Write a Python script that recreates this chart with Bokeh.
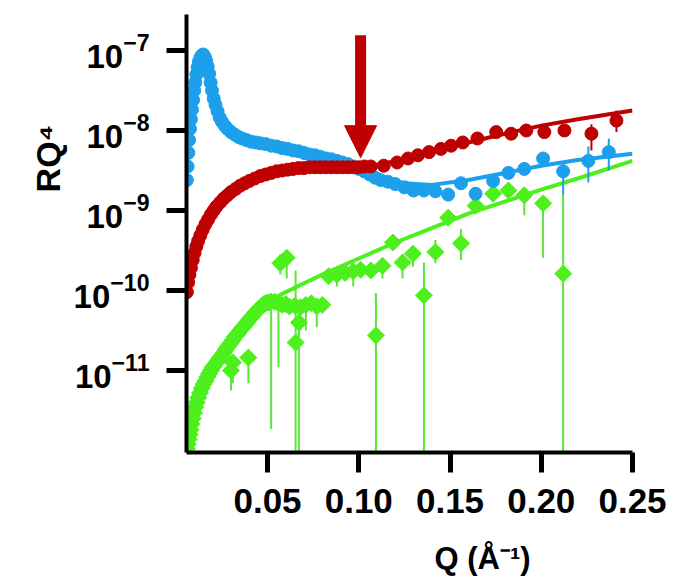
import numpy as np
from bokeh.plotting import figure
from bokeh.models import (Range1d, FixedTicker, PrintfTickFormatter, LogTickFormatter, Label,
                          Arrow, NormalHead, ColumnDataSource)
from bokeh.embed import file_html
from bokeh.resources import INLINE

# ---------------- data ----------------
blue_q = [0.0058, 0.0062, 0.0066, 0.0070, 0.0075, 0.0080, 0.0086, 0.0092, 0.0098, 0.0104,
          0.0110, 0.0117, 0.0124, 0.0132, 0.0140, 0.0148,
          0.0156, 0.0164, 0.0172, 0.0180, 0.0188, 0.0196, 0.0205, 0.0215, 0.0226, 0.0238, 0.0250,
          0.0265, 0.0280, 0.0300, 0.0320, 0.0340, 0.0360, 0.0385, 0.0410, 0.0435, 0.0460, 0.0490,
          0.052, 0.055, 0.058, 0.061, 0.064, 0.067, 0.070, 0.073, 0.076, 0.079,
          0.082, 0.085, 0.088, 0.091, 0.094, 0.097, 0.100, 0.103, 0.106, 0.109, 0.112,
          0.1160, 0.1200, 0.1250, 0.1300, 0.1357, 0.1420, 0.1490,
          0.1560, 0.1640, 0.1736, 0.1820, 0.1907, 0.2010, 0.2120, 0.2258, 0.2370]
blue_r = [2.40e-9, 3.55e-9, 5.25e-9, 7.59e-9, 1.05e-8, 1.38e-8, 1.82e-8, 2.40e-8, 3.16e-8, 3.98e-8,
          5.01e-8, 6.17e-8, 7.24e-8, 8.13e-8, 8.71e-8, 8.91e-8,
          8.32e-8, 7.41e-8, 6.31e-8, 5.13e-8, 3.98e-8, 3.16e-8, 2.51e-8, 2.09e-8, 1.74e-8, 1.45e-8, 1.29e-8,
          1.15e-8, 1.05e-8, 9.55e-9, 8.91e-9, 8.32e-9, 7.94e-9, 7.59e-9, 7.24e-9, 7.08e-9, 6.92e-9, 6.76e-9,
          6.46e-9, 6.31e-9, 6.03e-9, 5.89e-9, 5.62e-9, 5.50e-9, 5.25e-9, 5.01e-9, 4.90e-9, 4.68e-9,
          4.47e-9, 4.37e-9, 4.17e-9, 3.98e-9, 3.80e-9, 3.55e-9, 3.31e-9, 3.09e-9, 2.82e-9, 2.57e-9, 2.40e-9,
          2.29e-9, 2.14e-9, 1.95e-9, 1.78e-9, 1.78e-9, 1.74e-9, 1.58e-9,
          2.19e-9, 1.62e-9, 2.34e-9, 2.95e-9, 3.31e-9, 4.47e-9, 3.09e-9, 4.17e-9, 5.37e-9]
blue_err_q = [0.2120, 0.2258, 0.2370]
blue_err_lo = [1.58e-9, 2.24e-9, 3.16e-9]
blue_err_hi = [3.98e-9, 6.31e-9, 7.94e-9]

red_q = [0.0058, 0.0065, 0.0072, 0.0080, 0.0090, 0.0100, 0.0110, 0.0120, 0.0132, 0.0145,
         0.0160, 0.0175, 0.0190, 0.0205, 0.0220, 0.0240, 0.0260, 0.0280, 0.0300, 0.0325,
         0.0350, 0.0375, 0.0400, 0.0430, 0.0460, 0.0490, 0.0520, 0.0550, 0.0580, 0.0610,
         0.0640, 0.0670, 0.0700, 0.0730, 0.0760, 0.0790, 0.0820, 0.0850, 0.0880, 0.0910,
         0.0940, 0.0970, 0.1000, 0.1030, 0.1066, 0.1137, 0.1210, 0.1270, 0.1324, 0.1385,
         0.1450, 0.1506, 0.1570, 0.1650, 0.1753, 0.1835, 0.1918, 0.2017, 0.2127, 0.2275,
         0.2412]
red_r = [9.55e-11, 1.26e-10, 1.58e-10, 1.91e-10, 2.40e-10, 2.95e-10, 3.55e-10, 4.17e-10, 4.90e-10, 5.75e-10,
         6.76e-10, 7.76e-10, 8.91e-10, 1.00e-9, 1.12e-9, 1.26e-9, 1.41e-9, 1.55e-9, 1.70e-9, 1.86e-9,
         2.04e-9, 2.19e-9, 2.34e-9, 2.51e-9, 2.69e-9, 2.82e-9, 2.95e-9, 3.09e-9, 3.16e-9, 3.24e-9,
         3.31e-9, 3.39e-9, 3.39e-9, 3.47e-9, 3.47e-9, 3.47e-9, 3.47e-9, 3.47e-9, 3.47e-9, 3.47e-9,
         3.47e-9, 3.47e-9, 3.47e-9, 3.55e-9, 3.55e-9, 3.63e-9, 3.98e-9, 4.47e-9, 4.90e-9, 5.37e-9,
         5.89e-9, 6.46e-9, 7.08e-9, 7.94e-9, 9.55e-9, 9.12e-9, 1.00e-8, 9.55e-9, 1.00e-8, 9.12e-9,
         1.33e-8]
red_err_q = [0.2275, 0.2412]
red_err_lo = [5.62e-9, 9.55e-9]
red_err_hi = [1.20e-8, 1.78e-8]

green_q = [0.0058, 0.0063, 0.0068, 0.0073, 0.0078, 0.0084, 0.0090, 0.0097, 0.0104, 0.0112,
           0.0120, 0.0130, 0.0140, 0.0150, 0.0160, 0.0170, 0.0180, 0.0190, 0.0200, 0.0210,
           0.0220, 0.0230, 0.0240, 0.0250, 0.0260, 0.0270, 0.0280, 0.0290, 0.0300, 0.0310,
           0.0320, 0.0330, 0.0340, 0.0350, 0.0360, 0.0370, 0.0380, 0.0390, 0.0400, 0.0410,
           0.0420, 0.0430, 0.0440, 0.0450, 0.0460, 0.0470, 0.0480, 0.0490, 0.0500, 0.0510,
           0.0520, 0.0540, 0.0560, 0.0580, 0.0600, 0.0620, 0.0650, 0.0680, 0.0710, 0.0740,
           0.0770, 0.0800, 0.0300, 0.0310, 0.0395, 0.0570, 0.0605, 0.0654, 0.0672, 0.0835,
           0.0880, 0.0925, 0.0970, 0.1010, 0.1066, 0.1094, 0.1130, 0.1187, 0.1240, 0.1297,
           0.1357, 0.1420, 0.1490, 0.1560, 0.1640, 0.1736, 0.1820, 0.1907, 0.2010, 0.2120]
green_r = [1.05e-12, 1.20e-12, 1.38e-12, 1.58e-12, 1.82e-12, 2.14e-12, 2.51e-12, 2.95e-12, 3.47e-12, 3.98e-12,
           4.57e-12, 5.25e-12, 6.03e-12, 6.76e-12, 7.41e-12, 8.32e-12, 9.12e-12, 1.00e-11, 1.10e-11, 1.17e-11,
           1.26e-11, 1.35e-11, 1.45e-11, 1.55e-11, 1.66e-11, 1.82e-11, 1.95e-11, 2.09e-11, 2.24e-11, 2.40e-11,
           2.63e-11, 2.75e-11, 2.95e-11, 3.16e-11, 3.39e-11, 3.55e-11, 3.80e-11, 4.07e-11, 4.37e-11, 4.57e-11,
           4.90e-11, 5.25e-11, 5.50e-11, 5.89e-11, 6.17e-11, 6.46e-11, 6.76e-11, 6.92e-11, 7.08e-11, 7.08e-11,
           7.24e-11, 7.24e-11, 6.92e-11, 6.61e-11, 6.76e-11, 6.31e-11, 6.46e-11, 6.17e-11, 6.61e-11, 6.92e-11,
           6.31e-11, 6.61e-11, 1.00e-11, 1.26e-11, 1.45e-11, 2.19e-10, 2.57e-10, 2.24e-11, 3.98e-11, 1.51e-10,
           1.58e-10, 1.66e-10, 1.74e-10, 1.82e-10, 1.78e-10, 2.75e-11, 2.04e-10, 3.98e-10, 2.24e-10, 2.88e-10,
           8.71e-11, 3.02e-10, 8.13e-10, 3.89e-10, 1.15e-9, 1.62e-9, 1.78e-9, 1.55e-9, 1.23e-9, 1.62e-10]
green_err_q = [0.0300, 0.0310, 0.0395, 0.0520, 0.0560, 0.0570, 0.0605, 0.0654, 0.0672, 0.0680,
               0.0710, 0.0770, 0.0880, 0.0970, 0.1094, 0.1130, 0.1240, 0.1297, 0.1357, 0.1420,
               0.1560, 0.1907, 0.2010, 0.2120]
green_err_lo = [5.62e-12, 6.92e-12, 6.92e-12, 1.86e-12, 1.10e-11, 1.58e-10, 1.41e-10, 1e-13, 1e-13, 3.16e-11,
                3.16e-11, 3.47e-11, 1.12e-10, 1.12e-10, 1e-13, 1.41e-10, 1.41e-10, 2.00e-10, 1e-13, 2.19e-10,
                2.40e-10, 8.71e-10, 2.57e-10, 1e-13]
green_err_hi = [1.00e-11, 1.26e-11, 1.45e-11, 7.24e-11, 6.92e-11, 2.82e-10, 3.16e-10, 1.78e-10, 6.31e-11, 6.17e-11,
                6.61e-11, 6.31e-11, 1.58e-10, 1.74e-10, 9.33e-11, 2.04e-10, 2.82e-10, 3.55e-10, 2.24e-10, 4.27e-10,
                5.89e-10, 1.55e-9, 1.23e-9, 1.62e-9]

fit_q = [0.095, 0.110, 0.125, 0.140, 0.160, 0.180, 0.200, 0.220, 0.250]
red_fit_r = [3.39e-9, 3.72e-9, 4.37e-9, 5.37e-9, 7.08e-9, 9.12e-9, 1.15e-8, 1.38e-8, 1.78e-8]
blue_fit_r = [3.55e-9, 2.63e-9, 2.19e-9, 2.09e-9, 2.40e-9, 2.95e-9, 3.63e-9, 4.27e-9, 5.13e-9]
green_fit_q = [0.006, 0.008, 0.010, 0.013, 0.016, 0.020, 0.025, 0.030, 0.035, 0.040, 0.045, 0.050,
               0.060, 0.070, 0.080, 0.100, 0.120, 0.140, 0.160, 0.180, 0.200, 0.220, 0.250]
green_fit_r = [1.12e-12, 1.91e-12, 3.02e-12, 5.01e-12, 7.59e-12, 1.12e-11, 1.66e-11, 2.40e-11, 3.31e-11,
               4.47e-11, 5.75e-11, 7.24e-11, 9.55e-11, 1.23e-10, 1.58e-10, 2.51e-10, 3.98e-10, 6.03e-10,
               9.12e-10, 1.29e-9, 1.82e-9, 2.51e-9, 4.17e-9]

x_ticks = [0.05, 0.10, 0.15, 0.20, 0.25]
y_ticks = [1e-11, 1e-10, 1e-9, 1e-8, 1e-7]
x_title = "Q (Å⁻¹)"
y_title = "RQ⁴"

arrow_q = 0.101
arrow_top = 1.55e-7
arrow_tip = 4.57e-9

# ---------------- layout / style ----------------
W, H = 679, 579
FL, FR, FT, FB = 186, 632, 14, 452          # frame edges in canvas pixels
X0, X1 = 0.0056, 0.25
LOG_Y0, LOG_Y1 = -12.025, -6.55

BLUE = "#1CA0EC"
RED = "#BE0000"
GREEN = "#4CF01C"
GREEN_BAR = "#5BE63A"
FONT = "Liberation Sans"


def px_x(px):
    return X0 + (px - FL) * (X1 - X0) / (FR - FL)


def px_y(py):
    return 10 ** (LOG_Y1 - (py - FT) * (LOG_Y1 - LOG_Y0) / (FB - FT))


p = figure(width=W, height=H, output_backend="svg", toolbar_location=None,
           y_axis_type="log",
           x_range=Range1d(X0, X1), y_range=Range1d(10 ** LOG_Y0, 10 ** LOG_Y1),
           min_border_left=FL, min_border_right=W - FR, min_border_top=FT, min_border_bottom=H - FB)
p.outline_line_color = None
p.grid.grid_line_color = None
p.background_fill_color = "white"
p.border_fill_color = "white"

for ax in (p.xaxis[0], p.yaxis[0]):
    ax.axis_line_width = 4
    ax.axis_line_color = "black"
    ax.major_tick_line_width = 5
    ax.major_tick_line_color = "black"
    ax.major_tick_out = 20
    ax.major_tick_in = 0
    ax.minor_tick_line_color = None
    ax.major_label_text_font = FONT
    ax.major_label_text_font_style = "bold"
    ax.major_label_text_color = "black"

p.xaxis.ticker = FixedTicker(ticks=x_ticks)
p.xaxis.formatter = PrintfTickFormatter(format="%.2f")
p.xaxis.major_label_text_font_size = "35px"
p.xaxis.major_label_standoff = 16

p.yaxis.ticker = FixedTicker(ticks=y_ticks)
p.yaxis.formatter = LogTickFormatter(min_exponent=0)
p.yaxis.major_label_text_font_size = "33px"
p.yaxis.major_label_standoff = 17

# ---------------- data marks ----------------
p.segment(x0="q", y0="lo", x1="q", y1="hi",
          source=ColumnDataSource(dict(q=green_err_q, lo=green_err_lo, hi=green_err_hi)),
          line_color=GREEN_BAR, line_width=2)
p.scatter(green_q, green_r, marker="square", angle=np.pi / 4, size=12,
          fill_color=GREEN, line_color=GREEN)
p.line(green_fit_q, green_fit_r, line_color=GREEN, line_width=4)

p.segment(x0="q", y0="lo", x1="q", y1="hi",
          source=ColumnDataSource(dict(q=blue_err_q, lo=blue_err_lo, hi=blue_err_hi)),
          line_color=BLUE, line_width=2)
p.scatter(blue_q, blue_r, marker="circle", size=13, fill_color=BLUE, line_color=BLUE)
p.line(fit_q, blue_fit_r, line_color=BLUE, line_width=4)

p.segment(x0="q", y0="lo", x1="q", y1="hi",
          source=ColumnDataSource(dict(q=red_err_q, lo=red_err_lo, hi=red_err_hi)),
          line_color=RED, line_width=2)
p.scatter(red_q, red_r, marker="circle", size=13, fill_color=RED, line_color=RED)
p.line(fit_q, red_fit_r, line_color=RED, line_width=4)

p.add_layout(Arrow(end=NormalHead(size=32, fill_color=RED, line_color=RED, line_width=1),
                   x_start=arrow_q, y_start=arrow_top, x_end=arrow_q, y_end=arrow_tip,
                   line_color=RED, line_width=11))

# ---------------- axis titles (side panels, so they are not clipped to the frame) ----------------
p.add_layout(Label(x=px_x(434), y=px_y(558), x_units="data", y_units="data", text=x_title,
                   text_align="left", text_baseline="alphabetic",
                   text_font=FONT, text_font_style="bold", text_font_size="31px",
                   text_color="black"), "below")
p.add_layout(Label(x=px_x(47), y=px_y(158), x_units="data", y_units="data", text=y_title,
                   text_align="center", text_baseline="alphabetic", angle=np.pi / 2,
                   text_font=FONT, text_font_style="bold", text_font_size="34px",
                   text_color="black"), "left")

open("out.html", "w").write(file_html(p, INLINE))
